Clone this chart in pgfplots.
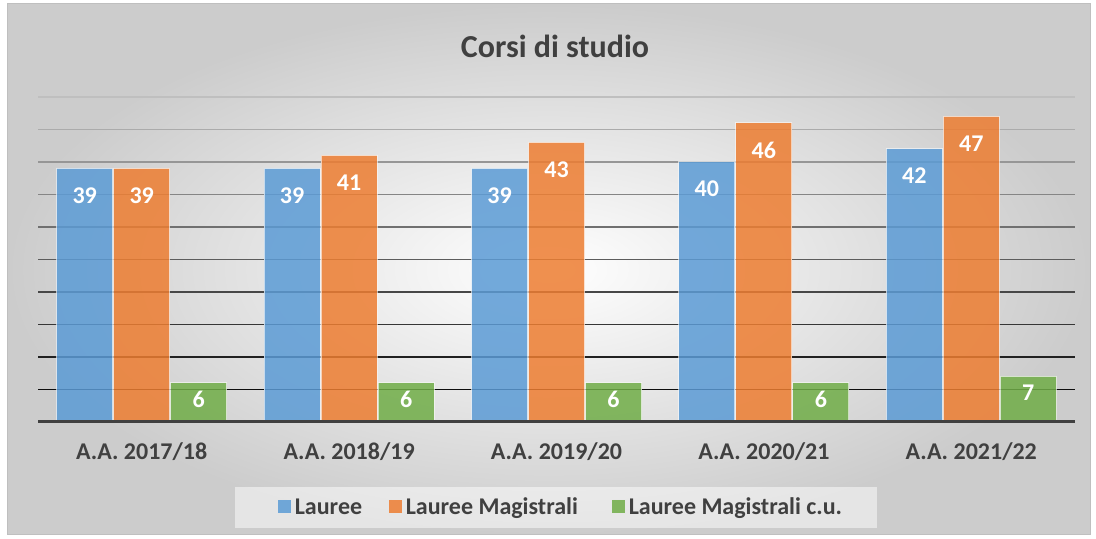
\documentclass[border=0pt]{standalone}
\usepackage{pgfplots}
\pgfplotsset{compat=1.18}
\usepackage{fontspec}
\setmainfont{Carlito}
\definecolor{cblue}{HTML}{5B9BD5}
\definecolor{corange}{HTML}{ED7D31}
\definecolor{cgreen}{HTML}{70AD47}
\definecolor{ctext}{HTML}{404040}
\pgfplotsset{
  sqlegend/.style={legend image code/.code={\draw[##1, draw=none] (0bp,-6.5bp) rectangle (13bp,6.5bp);}},
}
\begin{document}
\begin{tikzpicture}[x=1bp,y=1bp]
\fill[white] (0,0) rectangle (1096,539);
\shade[inner color=white, outer color=black!20] (7,4) rectangle (1090,535);
\draw[black!25, line width=1bp] (7,4) rectangle (1090,535);
\fill[white, opacity=0.5] (235,11) rectangle (877,52);
\node[font=\fontsize{32bp}{38bp}\selectfont\bfseries, text=ctext] at (555,493) {Corsi di studio};
\begin{axis}[
  at={(38bp,117bp)}, anchor=south west,
  scale only axis, width=1037bp, height=325bp,
  xmin=-0.5, xmax=4.5, ymin=0, ymax=50,
  ybar=1bp, bar width=56bp,
  axis line style={draw=none},
  ytick=\empty,
  xtick={0,1,2,3,4},
  xticklabels={A.A. 2017/18, A.A. 2018/19, A.A. 2019/20, A.A. 2020/21, A.A. 2021/22},
  major tick length=0pt,
  xticklabel style={font=\fontsize{24bp}{28bp}\selectfont\bfseries, text=ctext, yshift=-17bp},
  clip=false,
  /pgf/number format/assume math mode=true,
  nodes near coords,
  nodes near coords style={font=\fontsize{24bp}{28bp}\selectfont\bfseries, text=white, anchor=center, yshift=-27bp},
  legend columns=3,
  legend style={at={(0.5043,-0.2615)}, anchor=center, draw=none, fill=none,
    font=\fontsize{24bp}{28bp}\selectfont\bfseries, text=ctext, column sep=2bp},
  sqlegend,
]
\draw[black!25, line width=1.5bp] (axis cs:-0.5,50) -- (axis cs:4.5,50);
\draw[black!33, line width=1.5bp] (axis cs:-0.5,45) -- (axis cs:4.5,45);
\draw[black!41, line width=1.5bp] (axis cs:-0.5,40) -- (axis cs:4.5,40);
\draw[black!48, line width=1.5bp] (axis cs:-0.5,35) -- (axis cs:4.5,35);
\draw[black!56, line width=1.5bp] (axis cs:-0.5,30) -- (axis cs:4.5,30);
\draw[black!64, line width=1.5bp] (axis cs:-0.5,25) -- (axis cs:4.5,25);
\draw[black!72, line width=1.5bp] (axis cs:-0.5,20) -- (axis cs:4.5,20);
\draw[black!79, line width=1.5bp] (axis cs:-0.5,15) -- (axis cs:4.5,15);
\draw[black!87, line width=1.5bp] (axis cs:-0.5,10) -- (axis cs:4.5,10);
\draw[black!95, line width=1.5bp] (axis cs:-0.5,5) -- (axis cs:4.5,5);
\addplot[fill=cblue, fill opacity=0.85, draw=white, draw opacity=0.6, line width=1bp, text opacity=1]
  coordinates {(0,39) (1,39) (2,39) (3,40) (4,42)};
\addlegendentry{\makebox[90bp][l]{Lauree}}
\addplot[fill=corange, fill opacity=0.85, draw=white, draw opacity=0.6, line width=1bp, text opacity=1]
  coordinates {(0,39) (1,41) (2,43) (3,46) (4,47)};
\addlegendentry{\makebox[202bp][l]{Lauree Magistrali}}
\addplot[fill=cgreen, fill opacity=0.85, draw=white, draw opacity=0.6, line width=1bp, text opacity=1,
  nodes near coords style={yshift=11bp}]
  coordinates {(0,6) (1,6) (2,6) (3,6) (4,7)};
\addlegendentry{Lauree Magistrali c.u.}
\draw[ctext, line width=3bp] (axis cs:-0.5,0) -- (axis cs:4.5,0);
\end{axis}
\end{tikzpicture}
\end{document}
